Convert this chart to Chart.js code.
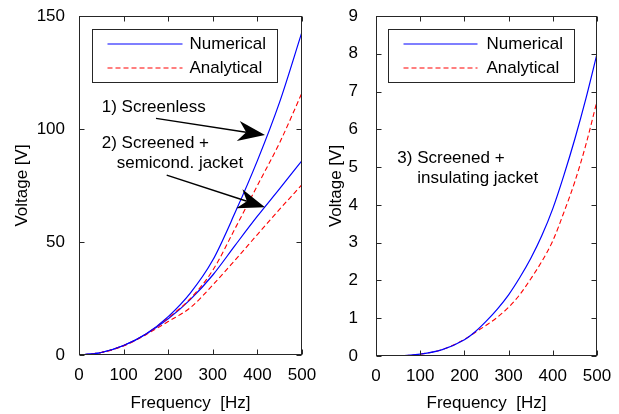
<!DOCTYPE html>
<html>
<head>
<meta charset="utf-8">
<script src="https://cdn.jsdelivr.net/npm/chart.js@4.4.1/dist/chart.umd.min.js"></script>
<style>
html,body{margin:0;padding:0;background:#fff;}
#wrap{position:relative;width:619px;height:414px;overflow:hidden;background:#fff;}
canvas{position:absolute;top:0;}
#c1{left:0;}
#c2{left:320px;}
</style>
</head>
<body>
<div id="wrap">
  <canvas id="c1" width="340" height="414"></canvas>
  <canvas id="c2" width="299" height="414"></canvas>
</div>
<script>
// left panel: 1) screenless, 2) screened + semiconductive jacket
const freqL=[10,50,100,150,200,250,300,350,400,450,500];
const screenlessNum =[0.05,1.1,4.2,9.3,17,27.5,42,63,86,112,143];
const screenlessAna =[0.05,1.1,4.2,9.2,16.5,25,37.5,56,75,94,116];
const semicondNum   =[0.05,1.1,4.2,9.2,16,24.6,35.4,48.5,61.4,73.6,86];
const semicondAna   =[0.05,1.1,4.0,9.0,14.8,21,31,42,53.3,64.5,75.4];

// right panel: 3) screened + insulating jacket
const freqR=[10,50,100,150,200,225,250,275,300,325,350,375,400,425,450,475,500];
const insulNum=[0,0.005,0.05,0.17,0.43,0.65,0.93,1.25,1.62,2.07,2.58,3.18,3.9,4.78,5.75,6.82,8.0];
const insulAna=[0,0.005,0.05,0.17,0.44,0.63,0.82,1.03,1.29,1.62,2.04,2.5,3.05,3.8,4.62,5.6,6.75];

const xTicks=[0,100,200,300,400,500];
const FONT="'Liberation Sans', Arial, sans-serif";
const BLUE="#0000ff", RED="#ff0000", AXIS="#262626";

const pts=(fs,ys)=>fs.map((f,i)=>({x:f,y:ys[i]}));
const numDs=(fs,ys)=>({data:pts(fs,ys),borderColor:BLUE,borderWidth:1.2,pointRadius:0,cubicInterpolationMode:"monotone",fill:false});
const anaDs=(fs,ys)=>({data:pts(fs,ys),borderColor:RED,borderWidth:1.1,borderDash:[5,3],pointRadius:0,cubicInterpolationMode:"monotone",fill:false});

function line(ctx,x1,y1,x2,y2){ctx.beginPath();ctx.moveTo(x1,y1);ctx.lineTo(x2,y2);ctx.stroke();}

function arrow(ctx,x1,y1,x2,y2){
  const ang=Math.atan2(y2-y1,x2-x1), c=Math.cos(ang), s=Math.sin(ang);
  const L=27, W=10, N=19;
  const bx=x2-c*L, by=y2-s*L;
  ctx.lineWidth=1.5;
  line(ctx,x1,y1,x2-c*N,y2-s*N);
  ctx.beginPath();
  ctx.moveTo(x2,y2);
  ctx.lineTo(bx-s*W,by+c*W);
  ctx.lineTo(x2-c*N,y2-s*N);
  ctx.lineTo(bx+s*W,by-c*W);
  ctx.closePath();
  ctx.fill();
}

const deco={
  id:"deco",
  afterDatasetsDraw(chart,args,o){
    const {ctx,chartArea:a,scales:{x,y}}=chart;
    const L=Math.round(a.left)+.5, R=Math.round(a.right)-.5, T=Math.round(a.top)+.5, B=Math.round(a.bottom)-.5;
    ctx.save();
    ctx.strokeStyle=AXIS;ctx.lineWidth=1;
    ctx.strokeRect(L,T,R-L,B-T);
    x.ticks.forEach(t=>{const p=Math.round(x.getPixelForValue(t.value))+.5;line(ctx,p,B,p,B-5);line(ctx,p,T,p,T+5);});
    y.ticks.forEach(t=>{const p=Math.round(y.getPixelForValue(t.value))+.5;line(ctx,L,p,L+5,p);line(ctx,R,p,R-5,p);});

    // legend box
    const g=o.legend, gx=L+g.dx, gy=T+13;
    ctx.fillStyle="#fff";ctx.fillRect(gx,gy,g.w,53);
    ctx.strokeStyle=AXIS;ctx.strokeRect(gx,gy,g.w,53);
    ctx.lineWidth=1.2;ctx.strokeStyle=BLUE;line(ctx,gx+g.l0,gy+14.5,gx+g.l1,gy+14.5);
    ctx.lineWidth=1.1;ctx.strokeStyle=RED;ctx.setLineDash([5,3]);line(ctx,gx+g.l0,gy+38.5,gx+g.l1,gy+38.5);ctx.setLineDash([]);
    ctx.fillStyle="#000";ctx.font="17px "+FONT;ctx.textBaseline="middle";ctx.textAlign="left";
    ctx.fillText("Numerical",gx+g.t,gy+15);
    ctx.fillText("Analytical",gx+g.t,gy+39);

    // notes
    (o.notes||[]).forEach(n=>ctx.fillText(n.text,x.getPixelForValue(n.f),y.getPixelForValue(n.v)));
    ctx.strokeStyle="#000";ctx.fillStyle="#000";
    (o.arrows||[]).forEach(r=>arrow(ctx,x.getPixelForValue(r.f0),y.getPixelForValue(r.v0),x.getPixelForValue(r.f1),y.getPixelForValue(r.v1)));
    ctx.restore();
  }
};

function makeChart(id,datasets,yMax,yStep,pad,yW,xH,yPad,titlePad,deco_opts){
  return new Chart(document.getElementById(id),{
    type:"line",
    data:{datasets},
    plugins:[deco],
    options:{
      responsive:false,animation:false,
      layout:{padding:pad},
      plugins:{legend:{display:false},tooltip:{enabled:false},deco:deco_opts},
      scales:{
        x:{type:"linear",min:0,max:500,
          afterBuildTicks:s=>{s.ticks=xTicks.map(v=>({value:v}));},
          afterFit:s=>{s.height=xH;},
          grid:{display:false},border:{display:false},
          ticks:{color:"#000",padding:2,maxRotation:0,font:{size:17,family:FONT}},
          title:{display:true,text:"Frequency  [Hz]",color:"#000",font:{size:17,family:FONT},padding:{top:0,bottom:0}}},
        y:{type:"linear",min:0,max:yMax,
          ticks:{stepSize:yStep,color:"#000",padding:yPad,font:{size:17,family:FONT}},
          afterFit:s=>{s.width=yW;s.paddingTop=0;s.paddingBottom=0;},
          grid:{display:false},border:{display:false},
          title:{display:true,text:"Voltage [V]",color:"#000",font:{size:17,family:FONT},padding:{top:titlePad,bottom:0}}}
      }
    }
  });
}

makeChart("c1",
  [numDs(freqL,screenlessNum),anaDs(freqL,screenlessAna),numDs(freqL,semicondNum),anaDs(freqL,semicondAna)],
  150,50,{left:0,top:16,right:38,bottom:0},79,59,6,12,
  {legend:{dx:13,w:185,l0:15,l1:90,t:97},
   notes:[{text:"1) Screenless",f:51,v:109.4},{text:"2) Screened +",f:51,v:93.6},{text:"semicond. jacket",f:84.5,v:84.8}],
   arrows:[{f0:172.6,v0:104.7,f1:417,v1:97.3},{f0:196.6,v0:79.6,f1:417,v1:65.4}]});

makeChart("c2",
  [numDs(freqR,insulNum),anaDs(freqR,insulAna)],
  9,1,{left:0,top:16,right:22,bottom:0},56,58,10,6,
  {legend:{dx:12,w:186,l0:15,l1:89,t:98},
   notes:[{text:"3) Screened +",f:48.2,v:5.23},{text:"insulating jacket",f:93.4,v:4.70}]});
</script>
</body>
</html>
